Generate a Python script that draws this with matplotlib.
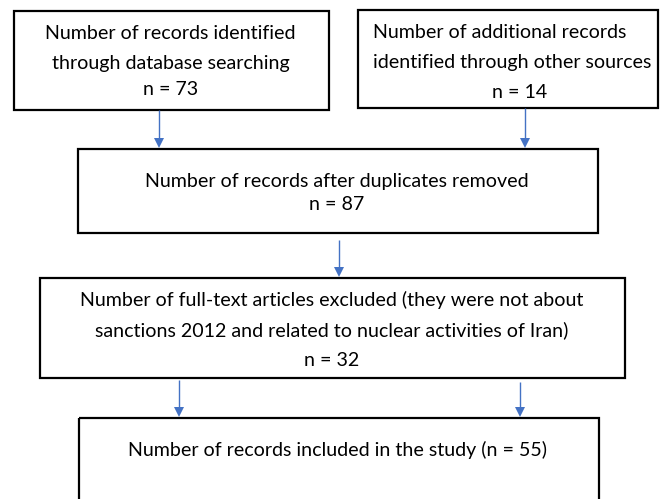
import matplotlib.pyplot as plt
from matplotlib.patches import Rectangle

plt.rcParams['font.family'] = ['Lato', 'DejaVu Sans']

# box contents
labels = [
    ["Number of records identified", "through database searching"],
    ["Number of additional records", "identified through other sources"],
    ["Number of records after duplicates removed"],
    ["Number of full-text articles excluded (they were not about",
     "sanctions 2012 and related to nuclear activities of Iran)"],
    ["Number of records included in the study (n = 55)"],
]
counts = [73, 14, 87, 32, None]

# layout in pixels (x0, y0, x1, y1), y going down
boxes = [(14, 11, 329, 110), (358, 10, 658, 108), (78, 149, 598, 233),
         (40, 278, 625, 378), (79, 418, 599, 520)]
line_y = [[33, 63, 89], [32, 62, 92], [182, 205], [300, 330, 360], [450]]
arrows = [(159, 110, 148), (525, 108, 148), (339, 240, 277),
          (179, 380, 417), (520, 382, 417)]

W, H = 667, 499
fig = plt.figure(figsize=(W / 100, H / 100), dpi=100)
ax = fig.add_axes([0, 0, 1, 1])
ax.set_xlim(0, W)
ax.set_ylim(H, 0)
ax.axis('off')

fs = 14.1
blue = '#4472C4'

for i, (x0, y0, x1, y1) in enumerate(boxes):
    ax.add_patch(Rectangle((x0, y0), x1 - x0, y1 - y0, fill=False,
                           edgecolor='black', lw=1.6))
    lines = list(labels[i])
    if counts[i] is not None:
        lines.append("n = %d" % counts[i])
    cx = (x0 + x1) / 2
    for j, txt in enumerate(lines):
        if i == 1 and j < 2:
            ax.text(373, line_y[i][j], txt, ha='left', va='center',
                    fontsize=fs, color='black')
        elif i == 1:
            ax.text(520, line_y[i][j], txt, ha='center', va='center',
                    fontsize=fs, color='black')
        else:
            ax.text(cx - 1, line_y[i][j], txt, ha='center', va='center',
                    fontsize=fs, color='black')

for x, ys, ye in arrows:
    ax.plot([x, x], [ys, ye - 9], color=blue, lw=1, solid_capstyle='butt')
    ax.fill([x - 5, x + 5, x], [ye - 10, ye - 10, ye], color=blue, lw=0)

fig.savefig("out.png", dpi=100)
